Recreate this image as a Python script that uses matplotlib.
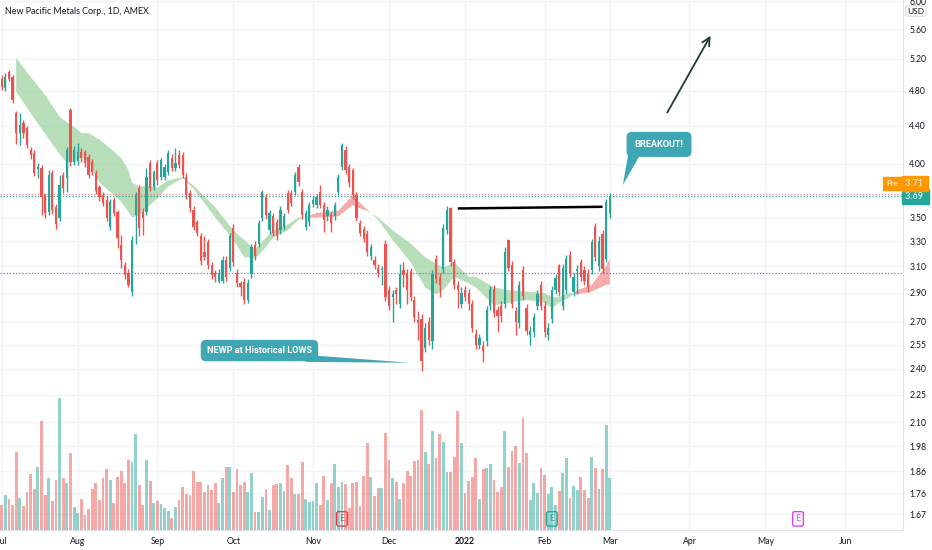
import numpy as np
import matplotlib
matplotlib.use('Agg')
from matplotlib import pyplot as plt
from matplotlib.patches import Polygon
from matplotlib.ticker import NullLocator, NullFormatter
from matplotlib.transforms import blended_transform_factory

plt.rcParams['font.family'] = ['Lato', 'DejaVu Sans']

# daily bars, NEWP (AMEX), Jul 1 2021 .. Mar 2 2022
opens = [4.94, 4.83, 5.03, 4.97, 4.54, 4.32, 4.43, 4.37, 4.14, 4.11,
         3.95, 3.96, 3.70, 3.55, 3.91, 3.59, 3.50, 3.89, 3.86, 4.58,
         4.02, 4.03, 4.12, 4.12, 4.07, 4.02, 3.91, 3.78, 3.70, 3.66,
         3.42, 3.66, 3.55, 3.27, 3.11, 3.05, 2.91, 3.52, 3.77, 3.55,
         3.55, 4.01, 3.78, 4.01, 3.87, 3.87, 3.92, 4.06, 3.96, 4.09,
         4.09, 3.87, 3.72, 3.57, 3.46, 3.34, 3.21, 3.29, 3.11, 3.05,
         2.99, 2.99, 3.15, 3.09, 3.41, 3.05, 2.97, 2.98, 2.85, 3.04,
         3.27, 3.28, 3.50, 3.68, 3.39, 3.51, 3.46, 3.39, 3.42, 3.72,
         3.72, 3.73, 3.97, 3.73, 3.42, 3.46, 3.62, 3.61, 3.73, 3.61,
         3.51, 3.52, 3.51, 3.73, 3.97, 4.14, 3.97, 3.94, 3.70, 3.45,
         3.40, 3.36, 3.18, 3.15, 3.09, 3.07, 3.28, 2.92, 2.87, 2.92,
         2.82, 3.07, 3.05, 3.06, 2.85, 2.71, 2.72, 2.53, 2.70, 2.57,
         3.16, 3.02, 3.08, 3.39, 3.58, 3.13, 2.96, 2.82, 2.92, 2.90,
         2.82, 2.62, 2.55, 2.54, 2.57, 2.81, 2.93, 2.78, 2.81, 2.82,
         3.31, 3.11, 2.77, 2.69, 3.07, 2.79, 2.61, 2.63, 2.81, 2.96,
         2.81, 2.61, 2.72, 2.92, 3.11, 2.81, 2.92, 3.19, 2.91, 3.06,
         3.13, 3.07, 3.05, 3.07, 3.42, 3.10, 3.36, 3.16, 3.54]
highs = [4.99, 5.02, 5.05, 4.99, 4.56, 4.54, 4.46, 4.40, 4.17, 4.14,
         4.01, 3.99, 3.72, 3.94, 3.94, 3.62, 3.89, 3.92, 4.17, 4.60,
         4.18, 4.21, 4.16, 4.14, 4.10, 4.05, 3.94, 3.80, 3.73, 3.69,
         3.67, 3.68, 3.57, 3.35, 3.13, 3.08, 3.34, 3.73, 3.80, 3.58,
         3.96, 4.04, 3.94, 4.04, 4.06, 4.00, 4.14, 4.10, 4.16, 4.14,
         4.12, 3.91, 3.75, 3.60, 3.48, 3.37, 3.34, 3.32, 3.13, 3.07,
         3.08, 3.18, 3.18, 3.37, 3.44, 3.08, 2.99, 3.01, 3.00, 3.28,
         3.30, 3.48, 3.75, 3.71, 3.57, 3.54, 3.49, 3.60, 3.54, 3.75,
         3.75, 3.92, 4.00, 3.76, 3.57, 3.64, 3.69, 3.71, 3.80, 3.64,
         3.60, 3.55, 3.64, 3.90, 4.21, 4.18, 4.00, 3.96, 3.73, 3.48,
         3.43, 3.39, 3.28, 3.18, 3.12, 3.10, 3.31, 2.95, 2.92, 2.94,
         3.12, 3.13, 3.08, 3.09, 2.88, 2.77, 2.75, 2.69, 2.73, 3.07,
         3.19, 3.05, 3.44, 3.60, 3.59, 3.16, 2.99, 2.94, 2.95, 2.93,
         2.85, 2.65, 2.62, 2.57, 2.81, 2.95, 2.96, 2.81, 2.84, 3.25,
         3.32, 3.14, 2.80, 2.99, 3.10, 2.82, 2.67, 2.76, 2.92, 2.99,
         2.84, 2.69, 2.95, 3.04, 3.12, 3.12, 3.19, 3.22, 3.05, 3.11,
         3.16, 3.10, 3.08, 3.32, 3.45, 3.34, 3.39, 3.67, 3.72]
lows = [4.81, 4.80, 4.92, 4.66, 4.20, 4.19, 4.27, 4.16, 4.05, 3.88,
        3.86, 3.52, 3.50, 3.52, 3.53, 3.40, 3.47, 3.72, 3.73, 3.98,
        3.99, 3.99, 4.02, 3.97, 3.86, 3.89, 3.71, 3.65, 3.60, 3.47,
        3.39, 3.51, 3.24, 3.09, 3.00, 2.94, 2.88, 3.28, 3.34, 3.35,
        3.52, 3.74, 3.75, 3.80, 3.84, 3.84, 3.89, 3.93, 3.93, 3.96,
        3.86, 3.67, 3.55, 3.39, 3.34, 3.11, 3.15, 3.08, 3.00, 2.98,
        2.97, 2.97, 2.99, 3.06, 3.10, 2.94, 2.88, 2.82, 2.83, 3.01,
        3.15, 3.25, 3.47, 3.49, 3.36, 3.34, 3.31, 3.36, 3.39, 3.54,
        3.60, 3.70, 3.79, 3.49, 3.39, 3.43, 3.59, 3.58, 3.58, 3.38,
        3.47, 3.38, 3.48, 3.70, 3.94, 3.90, 3.78, 3.67, 3.47, 3.34,
        3.29, 3.18, 3.15, 3.08, 3.02, 2.96, 2.84, 2.78, 2.70, 2.82,
        2.79, 2.94, 2.82, 2.84, 2.70, 2.58, 2.39, 2.50, 2.55, 2.52,
        2.97, 2.87, 3.05, 3.36, 3.10, 2.93, 2.79, 2.79, 2.84, 2.78,
        2.63, 2.52, 2.52, 2.44, 2.54, 2.78, 2.73, 2.63, 2.70, 2.79,
        3.06, 2.79, 2.61, 2.66, 2.85, 2.61, 2.55, 2.60, 2.78, 2.78,
        2.60, 2.58, 2.69, 2.89, 2.88, 2.78, 2.89, 3.02, 2.88, 2.89,
        2.99, 2.96, 2.91, 3.04, 3.14, 3.06, 3.05, 3.13, 3.50]
closes = [4.85, 4.97, 4.94, 4.69, 4.32, 4.41, 4.32, 4.19, 4.09, 3.91,
          3.97, 3.68, 3.54, 3.89, 3.57, 3.44, 3.80, 3.77, 4.14, 4.02,
          4.14, 4.12, 4.06, 4.01, 3.89, 3.92, 3.74, 3.68, 3.63, 3.50,
          3.64, 3.54, 3.33, 3.15, 3.03, 2.96, 3.31, 3.70, 3.41, 3.50,
          3.87, 3.77, 3.92, 3.84, 4.04, 3.97, 4.11, 3.96, 4.01, 3.99,
          3.89, 3.70, 3.58, 3.42, 3.37, 3.14, 3.17, 3.11, 3.03, 3.02,
          3.05, 3.15, 3.02, 3.34, 3.13, 2.97, 2.94, 2.85, 2.97, 3.25,
          3.18, 3.45, 3.73, 3.52, 3.54, 3.37, 3.34, 3.57, 3.51, 3.57,
          3.63, 3.89, 3.82, 3.52, 3.54, 3.61, 3.66, 3.68, 3.61, 3.48,
          3.57, 3.45, 3.61, 3.87, 4.19, 3.94, 3.81, 3.70, 3.50, 3.37,
          3.32, 3.21, 3.25, 3.11, 3.05, 3.08, 2.87, 2.81, 2.89, 2.89,
          3.04, 3.03, 2.92, 2.87, 2.73, 2.69, 2.45, 2.66, 2.58, 3.04,
          3.00, 2.96, 3.41, 3.57, 3.13, 2.96, 2.92, 2.90, 2.87, 2.82,
          2.66, 2.55, 2.59, 2.51, 2.78, 2.92, 2.76, 2.74, 2.74, 3.21,
          3.09, 2.82, 2.70, 2.96, 2.88, 2.64, 2.64, 2.73, 2.89, 2.81,
          2.63, 2.66, 2.92, 3.01, 2.91, 3.09, 3.16, 3.05, 3.02, 3.08,
          3.02, 2.99, 2.94, 3.29, 3.17, 3.30, 3.08, 3.64, 3.69]
# volume, thousands of shares
volume = [125, 175, 155, 125, 390, 160, 120, 190, 280, 205,
          315, 545, 175, 260, 145, 250, 660, 260, 235, 385,
          115, 85, 155, 75, 105, 205, 235, 150, 260, 305,
          250, 135, 265, 295, 235, 350, 340, 480, 225, 125,
          350, 245, 135, 145, 130, 110, 95, 60, 115, 150,
          215, 180, 175, 295, 240, 240, 190, 225, 200, 235,
          135, 260, 315, 315, 190, 305, 225, 240, 190, 285,
          90, 90, 165, 205, 100, 225, 230, 235, 195, 325,
          260, 180, 180, 340, 155, 140, 145, 235, 125, 270,
          150, 235, 330, 215, 240, 230, 110, 235, 240, 120,
          270, 435, 265, 170, 210, 210, 485, 350, 260, 240,
          155, 235, 295, 270, 345, 350, 600, 390, 330, 495,
          360, 480, 440, 290, 290, 365, 595, 435, 185, 245,
          265, 360, 155, 305, 310, 330, 250, 190, 215, 495,
          315, 395, 420, 335, 560, 385, 150, 235, 185, 310,
          275, 180, 215, 125, 195, 285, 360, 160, 220, 200,
          265, 200, 160, 365, 310, 205, 305, 525, 260]

# moving-average ribbon read at sample bars
band_bar = [4, 8, 12, 16, 18, 20, 22, 24, 27, 30, 33, 35, 36, 38, 40, 43, 46, 50,
            53, 59, 64, 67, 70, 73, 75, 79, 82, 87, 93, 97, 98, 101, 104, 108,
            113, 117, 120, 122, 125, 129, 131, 136, 140, 145, 150, 152, 154, 157,
            159, 163, 167, 168]
band_fast = [4.79, 4.54, 4.31, 4.10, 4.01, 4.02, 4.07, 4.02, 3.82, 3.73, 3.64, 3.55,
             3.50, 3.52, 3.58, 3.67, 3.78, 3.86, 3.76, 3.50, 3.31, 3.17, 3.16, 3.25,
             3.33, 3.39, 3.48, 3.54, 3.56, 3.70, 3.66, 3.57, 3.48, 3.31, 3.13, 2.94,
             2.89, 2.92, 3.02, 2.97, 2.94, 2.81, 2.83, 2.85, 2.83, 2.79, 2.83, 2.87,
             2.92, 2.96, 3.10, 3.16]
band_slow = [5.21, 4.97, 4.75, 4.50, 4.44, 4.39, 4.32, 4.32, 4.25, 4.16, 4.06, 3.94,
             3.82, 3.78, 3.79, 3.77, 3.84, 3.87, 3.79, 3.59, 3.39, 3.31, 3.23, 3.33,
             3.39, 3.44, 3.50, 3.50, 3.51, 3.61, 3.59, 3.56, 3.50, 3.39, 3.28, 3.17,
             3.12, 3.09, 3.13, 3.02, 3.02, 2.94, 2.92, 2.91, 2.90, 2.87, 2.87, 2.90,
             2.89, 2.91, 2.96, 2.96]

price_ticks = [1.67, 1.76, 1.86, 1.98, 2.10, 2.25, 2.40, 2.55, 2.70, 2.90,
               3.10, 3.30, 3.50, 4.00, 4.40, 4.80, 5.20, 5.60, 6.00]
month_pos = [0, 21, 43, 64, 86, 107, 128, 150, 168, 190, 211, 233]
month_lbl = ['Jul', 'Aug', 'Sep', 'Oct', 'Nov', 'Dec', '2022', 'Feb', 'Mar', 'Apr', 'May', 'Jun']

pre_price = 3.71
prev_line = 3.05
res_bar = [126, 166]
res_price = [3.58, 3.595]
arrow_bar = [183.5, 196.2]
arrow_price = [4.52, 5.54]
earn_bar = [94, 152, 220]
earn_col = ['#f23645', '#22ab94', '#e040fb']

UP = '#26a69a'
DN = '#ef5350'
TXT = '#131722'
GRID = '#f0f3fa'
NOTE = '#3fa7b3'

o = np.array(opens); h = np.array(highs); l = np.array(lows); c = np.array(closes)
x = np.arange(len(c))
up = c >= o
cols = np.where(up, UP, DN)

W, H = 932, 550
fig = plt.figure(figsize=(W / 100, H / 100), dpi=100)
rect = [0, 20 / H, 903 / W, 530 / H]
ax = fig.add_axes(rect)
vax = fig.add_axes(rect, sharex=ax)
vax.patch.set_visible(False)

ax.set_yscale('log')
ax.set_ylim(1.606, 6.02)
ax.set_xlim(-0.47, 249)

# grid
for t in price_ticks:
    ax.axhline(t, color=GRID, lw=1, zorder=0)
for m in month_pos:
    ax.axvline(m, color=GRID, lw=1, zorder=0)

# ribbon
bf = np.array(band_fast); bs = np.array(band_slow)
ax.fill_between(band_bar, bf, bs, where=bf <= bs, interpolate=True,
                color='#a5d6a7', alpha=0.8, lw=0, zorder=1)
ax.fill_between(band_bar, bf, bs, where=bf > bs, interpolate=True,
                color='#f48f8f', alpha=0.75, lw=0, zorder=1)

# candles
ax.vlines(x, l, h, colors=cols, lw=1, zorder=3)
ax.bar(x, np.maximum(np.abs(c - o), 0.006), bottom=np.minimum(o, c), width=0.62,
       color=cols, lw=0, zorder=4)

# price lines
ax.axhline(pre_price, color='#f08a8a', lw=0.9, ls=(0, (1, 1.5)), zorder=2)
ax.axhline(c[-1], color=UP, lw=0.9, ls=(0, (1, 1.5)), zorder=2)
ax.axhline(prev_line, color='#6f73f2', lw=0.9, ls=(0, (1, 1.5)), zorder=2)

# volume
vcols = [(0.149, 0.651, 0.604, 0.5) if u else (0.937, 0.325, 0.314, 0.5) for u in up]
vax.bar(x, volume, width=0.78, color=vcols, lw=0)
vax.set_ylim(0, max(volume) * 4.0)
vax.set_yticks([])
vax.tick_params(axis='x', bottom=False, labelbottom=False)
for s in vax.spines.values():
    s.set_visible(False)

# drawings
ax.plot(res_bar, res_price, color='black', lw=1.8, solid_capstyle='butt', zorder=5)
ax.annotate('', xy=(arrow_bar[1], arrow_price[1]), xytext=(arrow_bar[0], arrow_price[0]),
            arrowprops=dict(arrowstyle='->', color='#1e3a33', lw=1.3, mutation_scale=14),
            zorder=6)

note_font = dict(family=['Roboto', 'DejaVu Sans'], fontsize=6.6, fontweight='bold',
                 color='white', ha='center', va='center', zorder=7)
ax.add_patch(Polygon([(173.2, 4.12), (176.8, 4.12), (171.6, 3.795)], closed=True,
                     color=NOTE, lw=0, zorder=6))
ax.text(181.6, 4.20, 'BREAKOUT!',
        bbox=dict(boxstyle='round,pad=0.8,rounding_size=0.5', fc=NOTE, ec=NOTE),
        **note_font)

ax.add_patch(Polygon([(84, 2.485), (84, 2.442), (112.8, 2.437)], closed=True,
                     color=NOTE, lw=0, zorder=6))
ax.text(71.2, 2.512, 'NEWP at Historical LOWS',
        bbox=dict(boxstyle='round,pad=0.6,rounding_size=0.5', fc=NOTE, ec=NOTE),
        **note_font)

# earnings markers
xt = ax.get_xaxis_transform()
for b, ec in zip(earn_bar, earn_col):
    ax.text(b, 0.021, 'E', transform=xt, ha='center', va='center', fontsize=6.5,
            color=ec, zorder=8,
            bbox=dict(boxstyle='round,pad=0.3,rounding_size=0.2', fc='white', ec=ec, lw=1))

# axes
ax.yaxis.tick_right()
ax.yaxis.set_minor_locator(NullLocator())
ax.yaxis.set_minor_formatter(NullFormatter())
ax.set_yticks(price_ticks)
ax.set_yticklabels([f'{t:.2f}' for t in price_ticks])
ax.tick_params(axis='y', length=0, pad=4.5, labelsize=6.2, labelcolor=TXT)
ax.set_xticks(month_pos)
ax.set_xticklabels(month_lbl)
ax.tick_params(axis='x', length=0, pad=5, labelsize=6.2, labelcolor=TXT)
for lab in ax.get_xticklabels():
    if lab.get_text() == '2022':
        lab.set_fontweight('bold')
for side in ['top', 'left']:
    ax.spines[side].set_visible(False)
for side in ['bottom', 'right']:
    ax.spines[side].set_color('#e0e3eb')

# last price tags
bt = blended_transform_factory(ax.transAxes, ax.transData)
ax.text(1.002, c[-1], f'{c[-1]:.2f} ', transform=bt, ha='left', va='center',
        fontsize=6.6, color='white', clip_on=False, zorder=9,
        bbox=dict(boxstyle='square,pad=0.35', fc=UP, ec=UP))
ax.annotate(f'{pre_price:.2f} ', xy=(1.002, c[-1]), xycoords=bt, xytext=(0, 13),
            textcoords='offset pixels', ha='left', va='center', fontsize=6.6,
            color='white', annotation_clip=False, zorder=9,
            bbox=dict(boxstyle='square,pad=0.35', fc='#ff9800', ec='#ff9800'))
ax.annotate('Pre', xy=(1.0, c[-1]), xycoords=bt, xytext=(-5, 13),
            textcoords='offset pixels', ha='right', va='center', fontsize=5.8,
            color='white', annotation_clip=False, zorder=9,
            bbox=dict(boxstyle='square,pad=0.35', fc='#ff9800', ec='#ff9800'))

fig.text(916 / W, 1 - 11 / H, 'USD', ha='center', va='center', fontsize=6, color=TXT,
         bbox=dict(boxstyle='round,pad=0.2', fc='white', ec='#d1d4dc', lw=0.7))
fig.text(5 / W, 1 - 12 / H, 'New Pacific Metals Corp., 1D, AMEX', ha='left', va='center',
         fontsize=6.4, color=TXT)

fig.savefig('out.png', dpi=100, facecolor='white')
